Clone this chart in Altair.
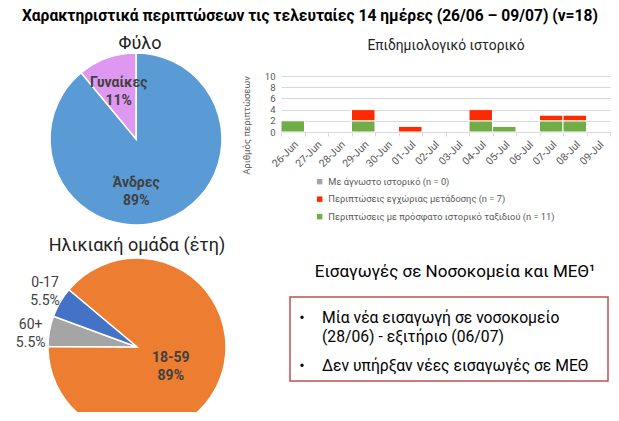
import math
import altair as alt
import pandas as pd

# ---------------- data ----------------
main_title = "Χαρακτηριστικά περιπτώσεων τις τελευταίες 14 ημέρες (26/06 – 09/07) (ν=18)"

sex_title = "Φύλο"
sex_labels = ["Άνδρες", "Γυναίκες"]
sex_values = [89, 11]
sex_text = ["89%", "11%"]
sex_colors = ["#5B9BD5", "#DE98F0"]

age_title = "Ηλικιακή ομάδα (έτη)"
age_labels = ["18-59", "60+", "0-17"]
age_values = [89, 5.5, 5.5]
age_text = ["89%", "5.5%", "5.5%"]
age_colors = ["#ED7D31", "#A5A5A5", "#4472C4"]

epi_title = "Επιδημιολογικό ιστορικό"
days = ["26-Jun", "27-Jun", "28-Jun", "29-Jun", "30-Jun", "01-Jul", "02-Jul",
        "03-Jul", "04-Jul", "05-Jul", "06-Jul", "07-Jul", "08-Jul", "09-Jul"]
travel = [2, 0, 0, 2, 0, 0, 0, 0, 2, 1, 0, 2, 2, 0]
local_tr = [0, 0, 0, 2, 0, 1, 0, 0, 2, 0, 0, 1, 1, 0]
unknown = [0] * 14
series_names = ["Με άγνωστο ιστορικό (n = 0)",
                "Περιπτώσεις εγχώριας μετάδοσης (n = 7)",
                "Περιπτώσεις με πρόσφατο ιστορικό ταξιδιού (n = 11)"]
series_colors = ["#A5A5A5", "#FF2A00", "#70AD47"]
y_ticks = [0, 2, 4, 6, 8, 10]
y_title = "Αριθμός περιπτώσεων"

box_title = "Εισαγωγές σε Νοσοκομεία και ΜΕΘ¹"
box_item1 = "Μία νέα εισαγωγή σε νοσοκομείο\n(28/06) - εξιτήριο (06/07)"
box_item2 = "Δεν υπήρξαν νέες εισαγωγές σε ΜΕΘ"

FONT = "Roboto"
DARK = "#404040"

# ---------------- left column: pies ----------------
sex_df = pd.DataFrame({"label": sex_labels, "value": sex_values,
                       "pct": sex_text, "idx": list(range(len(sex_labels)))})
sex_df["txt"] = sex_df["label"] + "\n" + sex_df["pct"]
age_df = pd.DataFrame({"label": age_labels, "value": age_values,
                       "pct": age_text, "idx": list(range(len(age_labels)))})
age_df["txt"] = age_df["label"] + "\n" + age_df["pct"]


def pie_layer(df, colors, cx, cy, r, start_deg, text_specs, clip=False):
    rng = [math.radians(start_deg), math.radians(start_deg + 360)]
    base = alt.Chart(df).encode(
        theta=alt.Theta("value:Q", stack=True, scale=alt.Scale(range=rng)),
        order=alt.Order("idx:Q", sort="ascending"),
        x=alt.value(cx), y=alt.value(cy),
    )
    arc = base.mark_arc(outerRadius=r, stroke="white", strokeWidth=1.5, clip=clip).encode(
        color=alt.Color("label:N", scale=alt.Scale(domain=list(df["label"]), range=colors),
                        legend=None)
    )
    layers = [arc]
    for labels, rad, dx, dy, weight, size in text_specs:
        cond = " || ".join([f"datum.label == '{l}'" for l in labels])
        t = base.transform_calculate(
            show=f"({cond}) ? datum.txt : ''"
        ).mark_text(radius=rad, dx=dx, dy=dy, fontWeight=weight, fontSize=size,
                    color=DARK, lineBreak="\n", lineHeight=18, align="center",
                    baseline="middle").encode(
            text="show:N", detail="label:N")
        layers.append(t)
    return alt.layer(*layers)


sex_pie = pie_layer(sex_df, sex_colors, 128, 131, 86, 0,
                    [(["Γυναίκες"], 51, 0, -8, "bold", 14),
                     (["Άνδρες"], 51, -17, -4, "bold", 14)])
age_pie = pie_layer(age_df, age_colors, 129, 339, 89, 310,
                    [(["18-59"], 36, 0, -1, "bold", 14),
                     (["0-17"], 104, -2, -12, "normal", 14),
                     (["60+"], 104, -4, -3, "normal", 14)], clip=True)

titles_df = pd.DataFrame({"t": [main_title]})
main_t = alt.Chart(titles_df).mark_text(fontSize=15.6, fontWeight="bold", color="black",
                                        align="center", baseline="middle").encode(
    text="t:N", x=alt.value(302), y=alt.value(8))
sex_t = alt.Chart(pd.DataFrame({"t": [sex_title]})).mark_text(
    fontSize=18, color="#222222", align="center", baseline="middle").encode(
    text="t:N", x=alt.value(132), y=alt.value(36))
age_t = alt.Chart(pd.DataFrame({"t": [age_title]})).mark_text(
    fontSize=18, color="#222222", align="center", baseline="middle").encode(
    text="t:N", x=alt.value(129), y=alt.value(238))

left = alt.layer(main_t, sex_t, age_t, sex_pie, age_pie).resolve_scale(
    theta="independent", color="independent").properties(width=230, height=404)

# ---------------- right column ----------------
epi_t = alt.Chart(pd.DataFrame({"t": [epi_title]})).mark_text(
    fontSize=13.8, color="#222222", align="center", baseline="middle").encode(
    text="t:N", x=alt.value(165), y=alt.value(38)).properties(width=329, height=68)

rows = []
for d, u, l, tr in zip(days, unknown, local_tr, travel):
    rows.append({"day": d, "series": series_names[2], "value": tr, "k": 0})
    rows.append({"day": d, "series": series_names[1], "value": l, "k": 1})
    rows.append({"day": d, "series": series_names[0], "value": u, "k": 2})
bar_df = pd.DataFrame(rows)

bar = alt.Chart(bar_df).transform_filter("datum.value > 0").mark_bar(
    stroke="white", strokeWidth=1).encode(
    x=alt.X("day:N", sort=days,
            scale=alt.Scale(domain=days, paddingInner=0, paddingOuter=0),
            axis=alt.Axis(title=None, labelAngle=-45, labelFontSize=10.5,
                          labelColor="#595959", domainColor="#D9D9D9",
                          tickColor="#D9D9D9", tickSize=4, tickBand="extent",
                          labelPadding=3, grid=False)),
    y=alt.Y("value:Q", stack="zero", scale=alt.Scale(domain=[0, 10]),
            axis=alt.Axis(values=y_ticks, title=y_title, titleFontSize=9.5,
                          titleFontWeight="normal", titleColor="#595959",
                          titleX=-30, titleY=49, labelFontSize=9.5,
                          labelColor="#595959", labelPadding=6, domain=False,
                          ticks=False, gridColor="#D9D9D9")),
    color=alt.Color("series:N", scale=alt.Scale(domain=series_names, range=series_colors),
                    legend=alt.Legend(title=None, orient="none", legendX=34, legendY=101,
                                      direction="vertical", symbolType="square",
                                      symbolSize=30, symbolStrokeWidth=0,
                                      labelFontSize=9.3, labelColor="#595959",
                                      rowPadding=7.5, labelLimit=400)),
    order=alt.Order("k:Q", sort="ascending"),
).properties(width=329, height=56)

box_t = alt.Chart(pd.DataFrame({"t": [box_title]})).mark_text(
    fontSize=17, color="black", align="center", baseline="middle").encode(
    text="t:N", x=alt.value(174), y=alt.value(140))
box_rect = alt.Chart(pd.DataFrame({"t": [0]})).mark_rect(
    fill=None, stroke="#C0504D", strokeWidth=1.5).encode(
    x=alt.value(9), x2=alt.value(327), y=alt.value(165), y2=alt.value(249))
item1 = alt.Chart(pd.DataFrame({"t": [box_item1]})).mark_text(
    fontSize=15.7, color="black", align="left", baseline="middle", lineBreak="\n",
    lineHeight=19).encode(text="t:N", x=alt.value(41), y=alt.value(186))
item2 = alt.Chart(pd.DataFrame({"t": [box_item2]})).mark_text(
    fontSize=15.7, color="black", align="left", baseline="middle").encode(
    text="t:N", x=alt.value(41), y=alt.value(234))
bul1 = alt.Chart(pd.DataFrame({"t": ["•"]})).mark_text(
    fontSize=16, color="black", align="center", baseline="middle").encode(
    text="t:N", x=alt.value(21), y=alt.value(186))
bul2 = alt.Chart(pd.DataFrame({"t": ["•"]})).mark_text(
    fontSize=16, color="black", align="center", baseline="middle").encode(
    text="t:N", x=alt.value(21), y=alt.value(234))
box = alt.layer(box_rect, box_t, item1, item2, bul1, bul2).properties(width=329, height=280)

right = alt.vconcat(epi_t, bar, box, spacing=0, bounds="flush").resolve_scale(
    color="independent")

chart = alt.hconcat(left, right, spacing=43, bounds="flush").resolve_scale(
    color="independent", theta="independent").properties(padding=0).configure(
    font=FONT).configure_view(stroke=None)

chart.save("out.html", embed_options={"renderer": "svg", "actions": False})
